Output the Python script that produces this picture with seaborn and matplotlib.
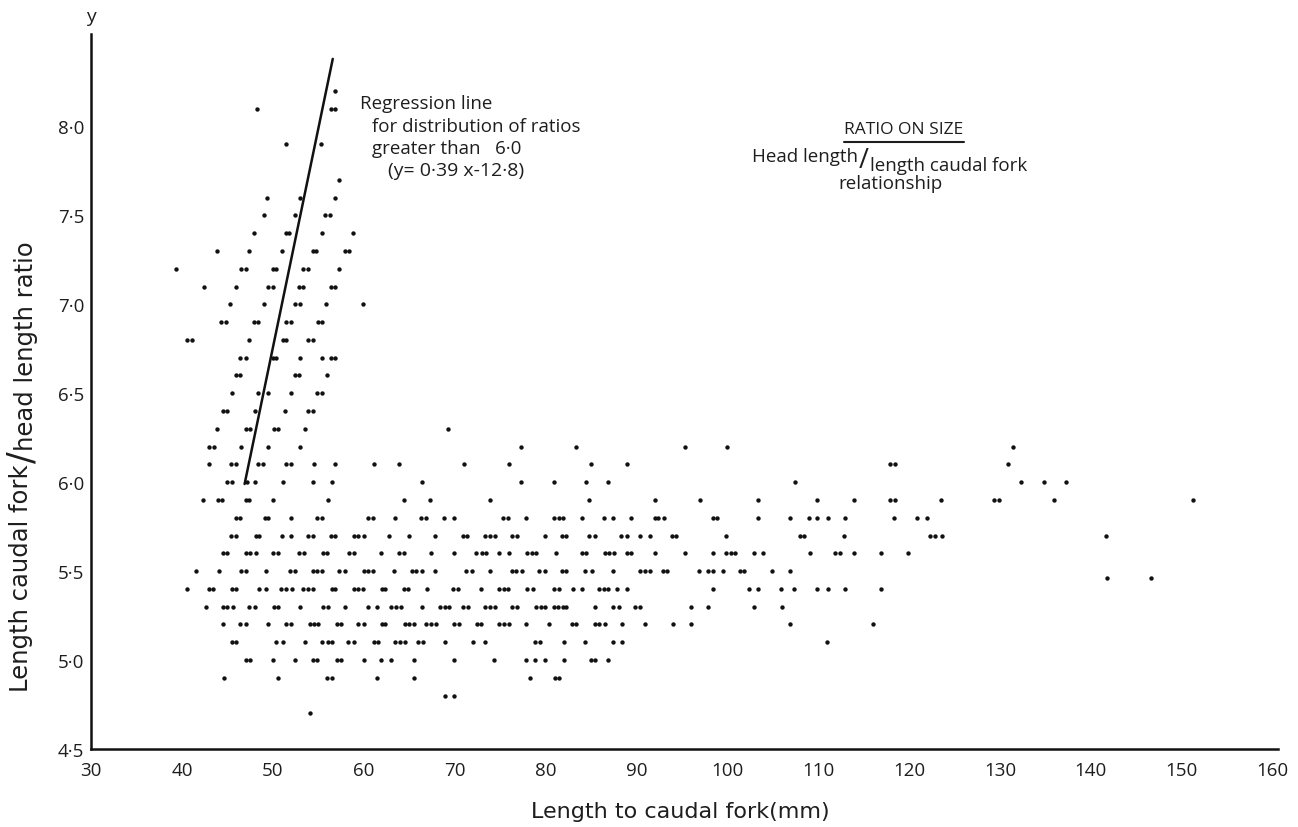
import matplotlib
matplotlib.use("Agg")
import matplotlib.pyplot as plt
from matplotlib.lines import Line2D
import seaborn as sns
import pandas as pd

# ---- data: ratio (y) rows and the fork lengths (x, mm) plotted on each row ----
len_82 = [56.9]
len_81 = [48.3, 56.4, 56.9]
len_79 = [51.4, 55.3]
len_77 = [57.3]
len_76 = [49.4, 53.0, 56.8]
len_75 = [49.0, 52.5, 55.8, 56.3]
len_74 = [47.9, 51.4, 51.8, 55.4, 58.8]
len_73 = [43.9, 47.4, 51.0, 54.4, 54.8, 57.9, 58.4]
len_72 = [39.4, 46.5, 47.0, 50.0, 50.4, 53.3, 53.9, 57.3]
len_71 = [42.4, 46.0, 49.5, 50.0, 52.9, 53.3, 56.4, 56.9]
len_70 = [45.3, 49.0, 52.5, 53.0, 55.9, 59.9]
len_69 = [44.3, 44.8, 47.9, 48.4, 51.5, 52.0, 55.0, 55.4]
len_68 = [40.6, 41.1, 47.4, 51.1, 51.5, 53.9, 54.4]
len_67 = [46.4, 47.0, 50.0, 50.4, 53.0, 55.4, 56.4, 56.9]
len_66 = [46.0, 46.4, 52.5, 52.9, 56.0]
len_65 = [45.5, 48.4, 49.5, 52.0, 54.9, 55.4]
len_64 = [44.5, 45.0, 48.0, 51.3, 53.9, 54.4]
len_63 = [43.9, 47.1, 47.5, 50.1, 50.6, 53.5, 69.3]
len_62 = [43.0, 43.5, 46.5, 49.5, 53.0, 77.3, 83.4, 95.4, 100.0, 131.4]
len_61 = [43.0, 45.4, 45.9, 48.4, 48.9, 51.5, 52.0, 54.5, 56.9, 61.1, 63.9, 71.0,
          76.0, 85.0, 89.0, 117.9, 118.5, 130.9]
len_60 = [45.0, 45.5, 47.2, 48.0, 51.1, 54.4, 56.5, 66.4, 77.3, 80.9, 84.5, 86.9,
          107.5, 132.3, 134.8, 137.3]
len_59 = [42.3, 44.0, 44.4, 47.0, 47.4, 50.0, 56.1, 64.4, 67.3, 73.9, 84.8, 92.0,
          97.0, 103.4, 109.9, 114.0, 117.9, 118.5, 123.5, 129.3, 129.9, 135.9, 151.2]
len_58 = [45.9, 46.4, 49.1, 49.5, 52.0, 54.9, 55.4, 60.5, 61.0, 63.5, 66.3, 66.9,
          68.8, 69.9, 75.3, 75.9, 77.9, 80.9, 81.5, 81.9, 84.0, 86.4, 87.4, 89.4,
          92.0, 92.4, 93.0, 98.4, 98.9, 103.4, 106.9, 109.0, 109.9, 111.1, 113.0,
          118.4, 120.9, 122.0]
len_57 = [45.4, 46.0, 48.1, 48.5, 51.0, 52.0, 53.9, 54.4, 56.4, 56.9, 58.9, 59.4,
          60.0, 62.8, 65.0, 67.9, 70.9, 71.4, 73.4, 73.9, 74.4, 76.3, 76.9, 79.9,
          81.8, 82.3, 84.8, 85.4, 88.3, 89.0, 90.4, 91.5, 93.9, 94.4, 99.9, 108.0,
          108.5, 112.8, 122.3, 122.9, 123.6, 141.7]
len_56 = [44.5, 45.0, 47.0, 47.5, 48.1, 50.0, 50.6, 52.9, 53.4, 55.5, 56.0, 58.4,
          58.9, 61.9, 63.9, 64.4, 67.4, 69.9, 72.4, 73.0, 73.5, 74.9, 76.0, 78.0,
          78.5, 79.0, 81.2, 84.0, 84.5, 86.5, 87.0, 87.5, 89.0, 89.4, 92.0, 95.4,
          98.4, 99.9, 100.4, 100.9, 102.9, 103.9, 109.1, 111.9, 112.4, 113.9,
          116.9, 119.9]
len_55 = [41.5, 44.1, 46.5, 47.0, 49.2, 51.9, 52.5, 54.4, 54.9, 55.4, 57.3, 57.9,
          60.0, 60.5, 61.0, 63.3, 65.3, 65.8, 66.4, 67.9, 71.3, 71.9, 73.9, 76.3,
          76.8, 77.4, 79.3, 79.9, 81.8, 82.3, 84.3, 85.1, 87.4, 90.4, 90.9, 91.5,
          92.9, 93.4, 96.9, 97.9, 98.4, 99.5, 101.4, 101.9, 104.9, 106.9]
len_546 = [141.8, 146.6]
len_54 = [40.6, 43.0, 43.4, 45.5, 46.0, 48.5, 49.2, 50.9, 51.5, 52.1, 53.3, 53.9,
          54.4, 56.5, 56.9, 58.9, 59.4, 59.9, 62.0, 62.4, 64.4, 64.9, 67.0, 69.8,
          70.4, 72.9, 74.9, 75.4, 75.9, 78.0, 78.6, 80.9, 81.5, 83.0, 84.0, 85.9,
          86.4, 86.9, 87.9, 89.0, 98.4, 102.4, 103.4, 105.9, 107.4, 109.9, 111.1,
          113.0, 116.9]
len_53 = [42.6, 44.5, 45.0, 45.6, 47.4, 48.0, 50.1, 50.6, 53.0, 55.5, 56.1, 58.0,
          60.5, 61.5, 63.0, 63.6, 64.1, 66.4, 68.4, 68.9, 69.4, 70.9, 71.5, 73.4,
          73.9, 74.4, 76.3, 76.9, 79.0, 79.5, 80.0, 80.9, 81.4, 81.9, 82.3, 85.5,
          87.4, 88.1, 89.9, 90.4, 96.0, 97.9, 102.9, 106.0]
len_52 = [44.5, 46.4, 47.1, 49.5, 51.5, 52.0, 54.1, 54.5, 55.0, 57.1, 57.5, 59.4,
          60.0, 62.0, 62.4, 64.6, 65.0, 65.5, 66.9, 67.4, 68.0, 69.9, 70.5, 72.5,
          72.9, 74.9, 75.4, 76.0, 77.9, 80.4, 82.9, 83.4, 85.4, 85.9, 86.5, 88.4,
          90.9, 94.0, 96.0, 106.9, 116.0]
len_51 = [45.5, 46.0, 50.4, 51.1, 53.5, 55.4, 56.1, 56.5, 58.3, 58.9, 61.1, 61.6,
          63.5, 64.0, 64.5, 66.0, 66.5, 68.9, 72.0, 73.4, 78.9, 79.4, 82.0, 84.4,
          87.4, 88.4, 111.0]
len_50 = [47.0, 47.5, 50.0, 52.5, 54.4, 54.9, 57.1, 57.5, 60.0, 61.9, 63.0, 65.5,
          69.9, 74.3, 77.9, 78.9, 79.9, 82.0, 85.0, 85.5, 86.9]
len_49 = [44.6, 50.6, 56.0, 56.5, 61.5, 65.5, 78.3, 81.0, 81.5]
len_48 = [68.9, 69.9]
len_47 = [54.1]

ratio_levels = [8.2, 8.1, 7.9, 7.7, 7.6, 7.5, 7.4, 7.3, 7.2, 7.1, 7.0, 6.9, 6.8,
                6.7, 6.6, 6.5, 6.4, 6.3, 6.2, 6.1, 6.0, 5.9, 5.8, 5.7, 5.6, 5.5,
                5.46, 5.4, 5.3, 5.2, 5.1, 5.0, 4.9, 4.8, 4.7]
length_rows = [len_82, len_81, len_79, len_77, len_76, len_75, len_74, len_73,
               len_72, len_71, len_70, len_69, len_68, len_67, len_66, len_65,
               len_64, len_63, len_62, len_61, len_60, len_59, len_58, len_57,
               len_56, len_55, len_546, len_54, len_53, len_52, len_51, len_50,
               len_49, len_48, len_47]

# regression line (as drawn) for ratios > 6.0
reg_x = [46.9, 56.6]
reg_y = [5.99, 8.38]

x_ticks = [30, 40, 50, 60, 70, 80, 90, 100, 110, 120, 130, 140, 150, 160]
y_ticks = [4.5, 5.0, 5.5, 6.0, 6.5, 7.0, 7.5, 8.0]

# ---- build frame ----
xs, ys = [], []
for r, row in zip(ratio_levels, length_rows):
    xs.extend(row)
    ys.extend([r] * len(row))
df = pd.DataFrame({"length": xs, "ratio": ys})
reg_df = pd.DataFrame({"length": reg_x, "ratio": reg_y})

sns.set_style("white")
plt.rcParams["font.family"] = ["Open Sans", "DejaVu Sans"]

W, H = 1298, 828
INK = "#1e1e1e"
fig = plt.figure(figsize=(W / 100, H / 100), dpi=100)
fig.patch.set_facecolor("white")


def fx(px):
    return px / W


def fy(py):
    return 1 - py / H


ax = fig.add_axes([fx(91), fy(750), fx(1278) - fx(91), fy(35) - fy(750)])

sns.scatterplot(data=df, x="length", y="ratio", ax=ax, color="#111111",
                s=10, linewidth=0, legend=False)
sns.lineplot(data=reg_df, x="length", y="ratio", ax=ax, color="#111111",
             linewidth=1.8, legend=False)

ax.set_xlim(30, 160.6)
ax.set_ylim(4.5, 8.52)
ax.set_xticks(x_ticks)
ax.set_xticklabels([str(t) for t in x_ticks])
ax.set_yticks(y_ticks)
ax.set_yticklabels([f"{t:.1f}".replace(".", "·") for t in y_ticks])

for s in ["top", "right"]:
    ax.spines[s].set_visible(False)
for s in ["left", "bottom"]:
    ax.spines[s].set_linewidth(1.8)
    ax.spines[s].set_color("#111111")

ax.tick_params(axis="x", direction="in", length=4, width=1, labelsize=13.5,
               colors=INK, pad=9)
ax.tick_params(axis="y", direction="out", length=3, width=1, labelsize=13.5,
               colors=INK, pad=2)

ax.set_xlabel("")
ax.set_ylabel("")

# x axis title
fig.text(fx(680), fy(812), "Length to caudal fork(mm)", fontsize=16,
         family=["DejaVu Sans"], ha="center", va="center", color=INK)

fig.canvas.draw()
renderer = fig.canvas.get_renderer()

# y axis title, drawn in pieces with a large slash
yl1 = fig.text(fx(21), fy(692), "Length caudal fork", fontsize=17.5,
               family=["DejaVu Sans"], rotation=90, ha="center", va="bottom",
               color=INK)
bb = yl1.get_window_extent(renderer)
top1 = H - bb.y1  # pixel (from top) where part 1 ends
sl = fig.text(fx(23), fy(top1 - 1), "/", fontsize=25, family=["DejaVu Sans"],
              rotation=90, ha="center", va="bottom", color=INK)
bb = sl.get_window_extent(renderer)
top2 = H - bb.y1
fig.text(fx(26), fy(top2 - 1), "head length ratio", fontsize=17.5,
         family=["DejaVu Sans"], rotation=90, ha="center", va="bottom",
         color=INK)

# axis name at top of y axis
fig.text(fx(91), fy(17), "y", fontsize=14, ha="center", va="center", color=INK)

# regression annotation
fs = 13.5
fig.text(fx(360), fy(104), "Regression line", fontsize=fs, va="center", color=INK)
fig.text(fx(372), fy(127), "for distribution of ratios", fontsize=fs, va="center", color=INK)
fig.text(fx(372), fy(149), "greater than   6·0", fontsize=fs, va="center", color=INK)
fig.text(fx(388), fy(171), "(y= 0·39 x-12·8)", fontsize=fs + 0.5, va="center", color=INK)

# title block
t_ratio = fig.text(fx(904), fy(130), "RATIO ON SIZE", fontsize=12.5, ha="center",
                   va="center", color=INK)
bb = t_ratio.get_window_extent(renderer)
fig.add_artist(Line2D([bb.x0 / W, bb.x1 / W], [fy(143), fy(143)],
                      transform=fig.transFigure, color=INK, lw=1.5))

t_head = fig.text(fx(752), fy(157), "Head length", fontsize=fs, va="center",
                  color=INK)
bb = t_head.get_window_extent(renderer)
slash = fig.text(bb.x1 / W + 1 / W, fy(161), "/", fontsize=fs + 6, va="center",
                 color=INK)
bb2 = slash.get_window_extent(renderer)
fig.text(bb2.x1 / W + 1 / W, fy(166), "length caudal fork", fontsize=fs,
         va="center", color=INK)
fig.text(fx(890), fy(184), "relationship", fontsize=fs, ha="center",
         va="center", color=INK)

fig.savefig("out.png", dpi=100, facecolor="white")
